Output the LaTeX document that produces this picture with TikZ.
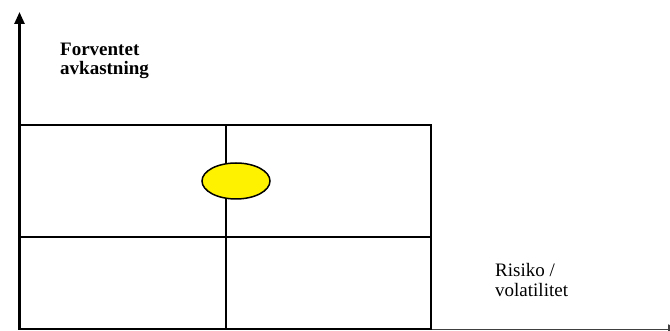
\documentclass[tikz,border=0pt]{standalone}
\usepackage{fontspec}
\setmainfont{Liberation Serif}
\usetikzlibrary{arrows.meta, positioning, shapes.geometric}

\begin{document}
\begin{tikzpicture}[
    x=1pt, y=1pt,
    axis/.style={line width=2.4pt, -{Triangle[length=12pt, width=10pt]}},
    grid/.style={line width=1.8pt},
    marker/.style={draw, ellipse, fill=yellow, line width=1.5pt,
                   minimum width=68pt, minimum height=36pt, inner sep=0pt},
    axislabel/.style={align=left, anchor=north west, inner sep=0pt}
  ]
  \useasboundingbox (0,0) rectangle (670,331);

  % axes
  \coordinate (origin) at (19.5,1.5);
  \coordinate (ybot) at (19.5,1);
  \coordinate (ytop) at (19.5,319);
  \coordinate (xend) at (680,1.5);
  \draw[axis] (ybot) -- (ytop);
  \draw[axis, line width=1.6pt, draw=black!75] (origin) -- (xend);

  % grid
  \coordinate (tl) at (19.5,206);
  \coordinate (br) at (431,2);
  \coordinate (midtop) at (226,206);
  \coordinate (midbot) at (226,2);
  \coordinate (midleft) at (19.5,94);
  \coordinate (midright) at (431,94);
  \draw[grid] (tl) rectangle (br);
  \draw[grid] (midtop) -- (midbot);
  \draw[grid] (midleft) -- (midright);

  \node[marker] (point) at (236,150) {};

  \node[axislabel, font=\rmfamily\bfseries\fontsize{19}{19}\selectfont] (ylabel) at (60,288) {Forventet\\avkastning};
  \node[axislabel, font=\rmfamily\fontsize{19}{20}\selectfont] (xlabel) at (495,68) {Risiko /\\volatilitet};
\end{tikzpicture}
\end{document}
